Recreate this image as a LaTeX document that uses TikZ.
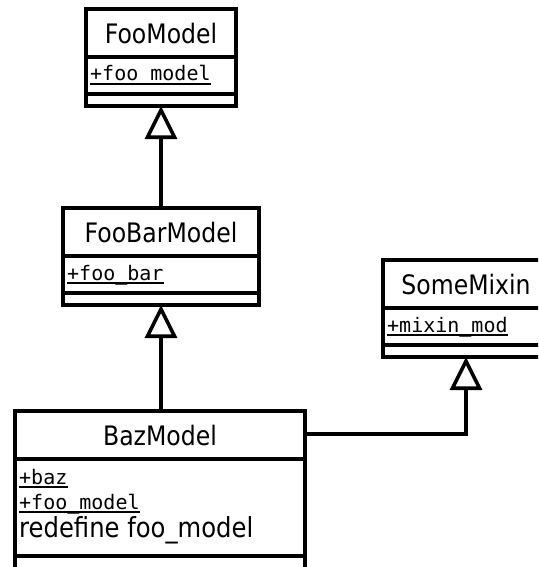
\documentclass[tikz,border=0pt]{standalone}
\usepackage{fontspec}
\setmainfont{DejaVu Sans}[FakeStretch=0.88]
\newfontfamily\umlmono{DejaVu Sans Mono}
\usetikzlibrary{arrows.meta}
\begin{document}
\begin{tikzpicture}[x=1pt,y=-1pt,
  classbox/.style={draw, line width=3.6pt, inner sep=0pt, outer sep=0pt, rectangle, fill=white},
  sepline/.style={line width=3.6pt},
  ttl/.style={anchor=base, inner sep=0pt, font=\fontsize{26.8}{30}\selectfont},
  attr/.style={anchor=base west, inner sep=0pt, font=\umlmono\fontsize{20}{24}\selectfont},
  plain/.style={anchor=base west, inner sep=0pt, font=\fontsize{27.6}{30}\selectfont},
  uline/.style={line width=1.8pt},
  gen/.style={line width=3.6pt, -{Triangle[open, length=33pt, width=32pt, line width=3.6pt]}},
  ]
\useasboundingbox (0,0) rectangle (538,567);
\clip (0,0) rectangle (538,567);
\fill[white] (0,0) rectangle (538,567);

% FooModel  (x 86..236, y 9..106)
\node[classbox, minimum width=150pt, minimum height=97pt] (foo) at (161,57.5) {};
\draw[sepline] (foo.west |- 0,57) -- (foo.east |- 0,57);
\draw[sepline] (foo.west |- 0,94) -- (foo.east |- 0,94);
\node[ttl] (footitle) at (161,43.5) {FooModel};
\node[attr] (fooattr) at (90,81) {+foo\_model};
\draw[uline] ([yshift=-3pt]fooattr.base west) -- ([yshift=-3pt]fooattr.base east);

% FooBarModel (x 63..259, y 208..305)
\node[classbox, minimum width=196pt, minimum height=97pt] (foobar) at (161,256.5) {};
\draw[sepline] (foobar.west |- 0,256) -- (foobar.east |- 0,256);
\draw[sepline] (foobar.west |- 0,293) -- (foobar.east |- 0,293);
\node[ttl] (foobartitle) at (161,242.5) {FooBarModel};
\node[attr] (foobarattr) at (67,280) {+foo\_bar};
\draw[uline] ([yshift=-3pt]foobarattr.base west) -- ([yshift=-3pt]foobarattr.base east);

% SomeMixin (x 383..549, y 260..357)
\node[classbox, minimum width=166pt, minimum height=97pt] (mixin) at (466,308.5) {};
\draw[sepline] (mixin.west |- 0,308) -- (mixin.east |- 0,308);
\draw[sepline] (mixin.west |- 0,345) -- (mixin.east |- 0,345);
\node[ttl] (mixintitle) at (466,294.5) {SomeMixin};
\node[attr] (mixinattr) at (387,332) {+mixin\_mod};
\draw[uline] ([yshift=-3pt]mixinattr.base west) -- ([yshift=-3pt]mixinattr.base east);

% BazModel (x 15..305, y 411..)
\node[classbox, minimum width=290pt, minimum height=200pt] (baz) at (160,511) {};
\draw[sepline] (baz.west |- 0,459) -- (baz.east |- 0,459);
\draw[sepline] (baz.west |- 0,556) -- (baz.east |- 0,556);
\node[ttl] (baztitle) at (160,445.5) {BazModel};
\node[attr] (bazattr1) at (19,484) {+baz};
\draw[uline] ([yshift=-3pt]bazattr1.base west) -- ([yshift=-3pt]bazattr1.base east);
\node[attr] (bazattr2) at (19,509) {+foo\_model};
\draw[uline] ([yshift=-3pt]bazattr2.base west) -- ([yshift=-3pt]bazattr2.base east);
\node[plain] (baznote) at (19,537) {redefine foo\_model};

% generalisations
\draw[gen] (foobar.north) -- (foo.south);
\draw[gen] (foobar.south |- baz.north) -- (foobar.south);
\coordinate (bazjoin) at (305,434);
\draw[gen] (baz.east |- bazjoin) -| (mixin.south);
\end{tikzpicture}
\end{document}
